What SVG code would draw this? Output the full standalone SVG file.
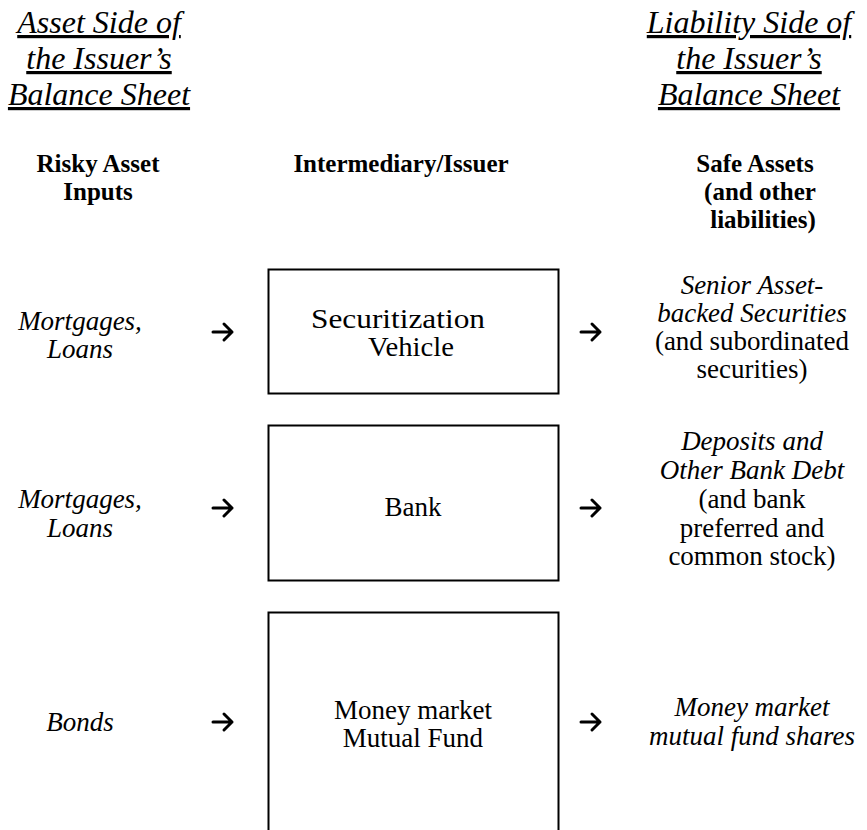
<svg xmlns="http://www.w3.org/2000/svg" width="867" height="830" viewBox="0 0 867 830">
<style>
  text { font-family: "Liberation Serif", "Times New Roman", serif; fill: #000; text-anchor: middle; }
  .hd { font-size: 32px; font-style: italic; text-decoration: underline; }
  .col { font-size: 25px; font-weight: bold; }
  .it { font-size: 27px; font-style: italic; }
  .rg { font-size: 27px; }
  .box { fill: #fff; stroke: #000; stroke-width: 2; }
  .arr { fill: none; stroke: #000; stroke-width: 3; stroke-linecap: round; stroke-linejoin: round; }
</style>
<rect width="867" height="830" fill="#fff"/>
<g id="asset-side-header">
  <text class="hd" x="99" y="33">Asset Side of</text>
  <text class="hd" x="99" y="69">the Issuer’s</text>
  <text class="hd" x="99" y="105">Balance Sheet</text>
</g>
<g id="liability-side-header">
  <text class="hd" x="749" y="33">Liability Side of</text>
  <text class="hd" x="749" y="69">the Issuer’s</text>
  <text class="hd" x="749" y="105">Balance Sheet</text>
</g>
<g id="col-risky">
  <text class="col" x="98" y="172">Risky Asset</text>
  <text class="col" x="98" y="200">Inputs</text>
</g>
<g id="col-intermediary">
  <text class="col" x="401" y="172">Intermediary/Issuer</text>
</g>
<g id="col-safe">
  <text class="col" x="755" y="172">Safe Assets</text>
  <text class="col" x="760" y="200">(and other</text>
  <text class="col" x="763" y="228">liabilities)</text>
</g>
<g id="input-1">
  <text class="it" x="80" y="330">Mortgages,</text>
  <text class="it" x="80" y="358">Loans</text>
</g>
<g id="input-2">
  <text class="it" x="80" y="508">Mortgages,</text>
  <text class="it" x="80" y="537">Loans</text>
</g>
<g id="input-3">
  <text class="it" x="80" y="731">Bonds</text>
</g>
<g id="securitization-vehicle">
  <rect class="box" x="268.5" y="269.5" width="290" height="124"/>
  <text class="rg" x="398" y="328" textLength="174" lengthAdjust="spacingAndGlyphs">Securitization</text>
  <text class="rg" x="411" y="356" textLength="86" lengthAdjust="spacingAndGlyphs">Vehicle</text>
</g>
<g id="bank">
  <rect class="box" x="268.5" y="425.5" width="290" height="155"/>
  <text class="rg" x="413" y="516">Bank</text>
</g>
<g id="money-market-fund">
  <rect class="box" x="268.5" y="612.5" width="290" height="240"/>
  <text class="rg" x="413" y="719">Money market</text>
  <text class="rg" x="413" y="747">Mutual Fund</text>
</g>
<g id="output-1">
  <text class="it" x="752" y="294">Senior Asset-</text>
  <text class="it" x="752" y="322">backed Securities</text>
  <text class="rg" x="752" y="350">(and subordinated</text>
  <text class="rg" x="752" y="378">securities)</text>
</g>
<g id="output-2">
  <text class="it" x="752" y="450">Deposits and</text>
  <text class="it" x="752" y="479">Other Bank Debt</text>
  <text class="rg" x="752" y="508">(and bank</text>
  <text class="rg" x="752" y="537">preferred and</text>
  <text class="rg" x="752" y="565">common stock)</text>
</g>
<g id="output-3">
  <text class="it" x="752" y="716">Money market</text>
  <text class="it" x="752" y="745">mutual fund shares</text>
</g>
<g id="connectors">
  <path class="arr" d="M213,332 H232 M224,324 L232,332 L224,340"/>
  <path class="arr" d="M581,332 H600 M592,324 L600,332 L592,340"/>
  <path class="arr" d="M213,508 H232 M224,500 L232,508 L224,516"/>
  <path class="arr" d="M581,508 H600 M592,500 L600,508 L592,516"/>
  <path class="arr" d="M213,722 H232 M224,714 L232,722 L224,730"/>
  <path class="arr" d="M581,722 H600 M592,714 L600,722 L592,730"/>
</g>
</svg>
